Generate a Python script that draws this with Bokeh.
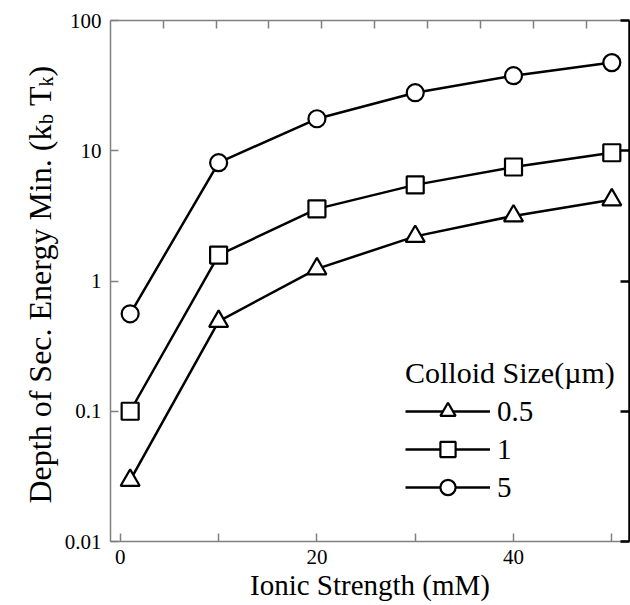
import math
from bokeh.plotting import figure
from bokeh.layouts import row
from bokeh.models import LogAxis, LinearAxis, FixedTicker, Range1d, Label, Legend, LegendItem
from bokeh.embed import file_html
from bokeh.resources import INLINE

# ---- data ----
ionic_strength = [1, 10, 20, 30, 40, 50]
depth_0_5 = [0.0295, 0.49, 1.24, 2.2, 3.16, 4.2]
depth_1 = [0.1, 1.58, 3.58, 5.47, 7.5, 9.65]
depth_5 = [0.56, 8.1, 17.6, 27.9, 37.7, 47.5]
series_labels = ["0.5", "1", "5"]
series_markers = ["triangle", "square", "circle"]
x_major_ticks = [0, 20, 40]
x_minor_ticks = [10, 30, 50]
y_ticks = [0.01, 0.1, 1, 10, 100]
y_tick_labels = ["0.01", "0.1", "1", "10", "100"]
top_ticks = [4.35, 9.75, 15.1, 20.5, 25.9, 31.2, 36.6, 42.0, 47.4]

FONT = "Liberation Serif"
GRAY = "#808080"

p = figure(width=570, height=605, y_axis_type="log",
           x_range=Range1d(-1.0, 51.8), y_range=Range1d(0.01, 100),
           output_backend="svg", toolbar_location=None,
           min_border_left=50, min_border_right=1, min_border_top=20, min_border_bottom=64)
p.grid.visible = False
p.outline_line_color = None
p.background_fill_color = "white"

# bottom axis
xa = p.xaxis[0]
xa.ticker = FixedTicker(ticks=x_major_ticks, minor_ticks=x_minor_ticks)
xa.axis_label = "Ionic Strength (mM)"
xa.axis_label_text_font = FONT
xa.axis_label_text_font_style = "normal"
xa.axis_label_text_font_size = "29px"
xa.axis_label_text_color = "black"
xa.axis_label_standoff = 2
xa.major_label_text_font = FONT
xa.major_label_text_font_size = "21px"
xa.major_label_text_color = "black"
xa.major_label_standoff = 8
xa.major_tick_in = 8
xa.major_tick_out = 0
xa.minor_tick_in = 8
xa.minor_tick_out = 0
xa.axis_line_color = GRAY
xa.major_tick_line_color = GRAY
xa.minor_tick_line_color = GRAY
xa.axis_line_width = 1.5
xa.major_tick_line_width = 1.5
xa.minor_tick_line_width = 1.5

# left axis
ya = p.yaxis[0]
ya.ticker = FixedTicker(ticks=y_ticks)
ya.major_label_overrides = {t: l for t, l in zip(y_ticks, y_tick_labels)}
ya.major_label_text_font = FONT
ya.major_label_text_font_size = "21px"
ya.major_label_text_color = "black"
ya.major_label_standoff = 9
ya.major_tick_in = 8
ya.major_tick_out = 0
ya.minor_tick_in = 0
ya.minor_tick_out = 0
ya.axis_line_color = GRAY
ya.major_tick_line_color = GRAY
ya.axis_line_width = 1.5
ya.major_tick_line_width = 1.5

# right axis (ticks only, no labels)
ra = LogAxis(ticker=FixedTicker(ticks=[], minor_ticks=y_ticks))
ra.major_tick_in = 0
ra.major_tick_out = 0
ra.minor_tick_in = 9
ra.minor_tick_out = 0
ra.axis_line_color = "black"
ra.axis_line_width = 2.5
ra.minor_tick_line_color = "black"
ra.minor_tick_line_width = 2.5
ra.major_label_standoff = 0
p.add_layout(ra, "right")

# top axis (ticks only, no labels)
ta = LinearAxis(ticker=FixedTicker(ticks=[], minor_ticks=top_ticks))
ta.major_tick_in = 0
ta.major_tick_out = 0
ta.minor_tick_in = 8
ta.minor_tick_out = 0
ta.axis_line_color = GRAY
ta.axis_line_width = 1.5
ta.minor_tick_line_color = GRAY
ta.minor_tick_line_width = 1.5
ta.major_label_standoff = 0
p.add_layout(ta, "above")

# series
items = []
sizes = {"triangle": 19, "square": 17, "circle": 17}
for ys, lab, mk in zip([depth_0_5, depth_1, depth_5], series_labels, series_markers):
    ln = p.line(ionic_strength, ys, line_color="black", line_width=2.5)
    sc = p.scatter(ionic_strength, ys, marker=mk, size=sizes[mk],
                   fill_color="white", line_color="black", line_width=2.2)
    items.append(LegendItem(label=lab, renderers=[ln, sc]))

legend = Legend(items=items, title="Colloid Size(µm)", location=(295, 35),
                border_line_color=None, background_fill_alpha=0,
                padding=0, margin=0, spacing=0,
                glyph_width=85, glyph_height=38, label_standoff=7,
                title_standoff=2,
                title_text_font=FONT, title_text_font_size="30px", title_text_font_style="normal",
                title_text_color="black",
                label_text_font=FONT, label_text_font_size="29px", label_text_color="black")
p.add_layout(legend)

# y-axis title with subscripts, drawn in a narrow side panel
lab_fig = figure(width=60, height=605, x_range=Range1d(0, 1), y_range=Range1d(0, 1),
                 output_backend="svg", toolbar_location=None,
                 x_axis_location=None, y_axis_location=None,
                 min_border=0, min_border_left=0, min_border_right=0,
                 min_border_top=0, min_border_bottom=0)
lab_fig.grid.visible = False
lab_fig.outline_line_color = None

main_size, sub_size = 32, 20
main_w = 11.859 * main_size
b_w = 0.5 * sub_size
sp_w = 0.25 * main_size
T_w = 0.611 * main_size
k_w = 0.5 * sub_size
base_x = 39
y0 = 38
pieces = [
    ("Depth of Sec. Energy Min. (k", main_size, 0, 0),
    ("b", sub_size, 6, main_w),
    ("T", main_size, 0, main_w + b_w + sp_w),
    ("k", sub_size, 6, main_w + b_w + sp_w + T_w),
    (")", main_size, 0, main_w + b_w + sp_w + T_w + k_w),
]
for txt, fs, dx, off in pieces:
    lab_fig.add_layout(Label(x=base_x + dx, y=y0 + off, x_units="screen", y_units="screen",
                             text=txt, angle=math.pi / 2, text_font=FONT,
                             text_font_size=f"{fs}px", text_align="left",
                             text_baseline="alphabetic", text_color="black"))

layout = row(lab_fig, p, spacing=0)
open("out.html", "w").write(file_html(layout, INLINE))
